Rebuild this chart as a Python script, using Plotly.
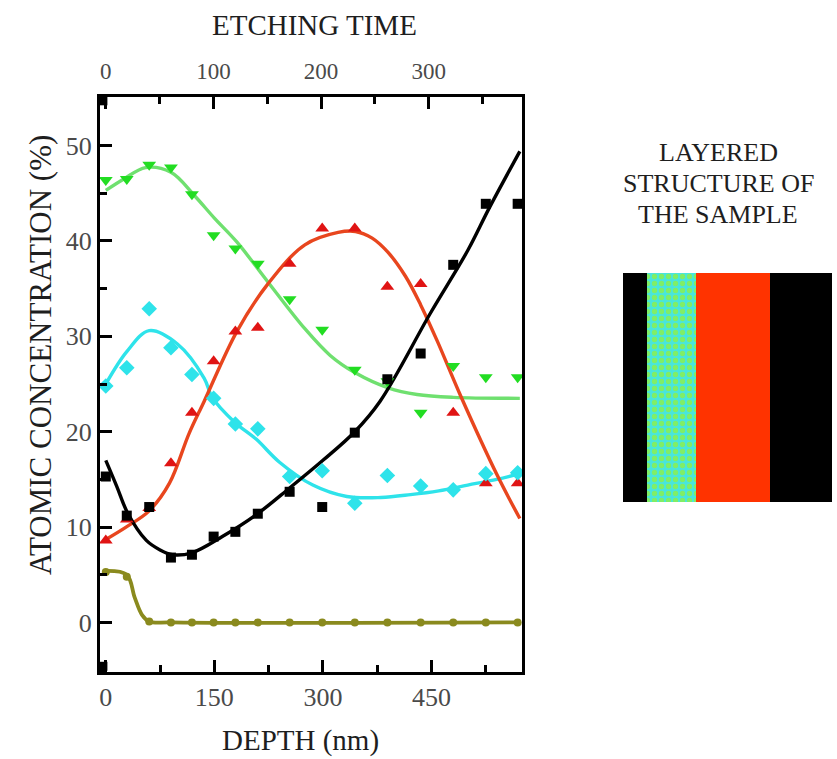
import plotly.graph_objects as go

# ---- measured depth profile (nm) and atomic concentrations (%) ----
depth = [0, 29, 60, 90, 119, 149, 179, 210, 254, 299, 344, 389, 435, 480, 525, 569]

black_pts = [15.3, 11.2, 12.1, 6.8, 7.1, 9.0, 9.5, 11.4, 13.7, 12.1, 19.9, 25.5, 28.2, 37.5, 43.9, 43.9]
red_pts = [8.6, 10.8, 12.0, 16.7, 22.0, 27.4, 30.5, 30.9, 37.6, 41.3, 41.3, 35.2, 35.5, 22.0, 14.6, 14.6]
green_pts = [46.4, 46.5, 48.0, 47.7, 44.9, 40.6, 39.2, 37.6, 33.9, 30.7, 26.5, 25.3, 22.0, 26.9, 25.7, 25.7]
cyan_pts = [24.8, 26.7, 32.9, 28.8, 26.0, 23.5, 20.8, 20.3, 15.3, 15.9, 12.5, 15.4, 14.3, 13.9, 15.6, 15.7]
olive_pts = [5.3, 4.8, 0.1, 0, 0, 0, 0, 0, 0, 0, 0, 0, 0, 0, 0, 0]

# frame corner markers
corner_depth = [-4, -4]
corner_conc = [54.7, -4.6]

# ---- smoothed fit curves ----
black_fit_x = [0, 15, 30, 56, 75, 92, 119, 161, 208, 254, 300, 344, 379, 449, 500, 530, 572]
black_fit_y = [17.0, 14.3, 11.5, 8.6, 7.6, 7.1, 7.3, 9.0, 11.3, 14.1, 17.0, 20.0, 23.2, 32.5, 39.0, 43.5, 49.4]

red_fit_x = [0, 28, 60, 88, 115, 136, 181, 224, 275, 321, 345, 368, 390, 414, 435, 458, 490, 541, 572]
red_fit_y = [8.7, 10.0, 11.7, 14.6, 19.8, 23.2, 30.5, 35.5, 39.6, 40.9, 41.0, 40.3, 38.8, 36.3, 33.3, 29.5, 23.8, 15.4, 10.9]

green_fit_x = [0, 25, 55, 90, 122, 150, 181, 225, 275, 310, 344, 390, 430, 480, 572]
green_fit_y = [45.3, 46.5, 47.7, 47.2, 44.8, 42.4, 39.9, 35.6, 30.8, 28.0, 26.2, 24.6, 23.9, 23.6, 23.5]

cyan_fit_x = [0, 29, 60, 99, 136, 147, 178, 208, 240, 286, 333, 380, 421, 460, 500, 540, 572]
cyan_fit_y = [25.0, 28.4, 30.6, 29.2, 25.6, 23.6, 21.0, 19.2, 16.8, 14.4, 13.2, 13.1, 13.4, 13.8, 14.4, 15.0, 15.6]

olive_fit_x = [0, 29, 40, 50, 60, 90, 572]
olive_fit_y = [5.4, 5.0, 2.6, 0.8, 0.1, 0.0, 0.0]

# ---- axes ----
depth_range = [-8, 575]
conc_range = [-5.2, 55.1]
nm_per_time = 1.487
time_range = [depth_range[0] / nm_per_time, depth_range[1] / nm_per_time]

# ---- layered structure (layer thickness, arbitrary units) ----
layer_names = ["substrate side", "mixed", "oxide", "top"]
layer_widths = [24, 49, 74, 62]
panel_title = ["LAYERED", "STRUCTURE OF", "THE SAMPLE"]

SERIF = "Liberation Serif, Times New Roman, serif"

# page geometry (px)
W, H = 837, 759
ML, MR, MT, MB = 100, 0, 97, 87
PW = W - ML - MR
PH = H - MT - MB


def px(x):
    return (x - ML) / PW


def py(y):
    return (H - MB - y) / PH


fig = go.Figure()

curves = [
    (olive_fit_x, olive_fit_y, "#8a8a1e", 3.8),
    (cyan_fit_x, cyan_fit_y, "#2ee3ea", 3.4),
    (green_fit_x, green_fit_y, "#6fe06f", 3.4),
    (red_fit_x, red_fit_y, "#e8461e", 3.4),
    (black_fit_x, black_fit_y, "#000000", 3.4),
]
for cx, cy, col, lw in curves:
    fig.add_trace(go.Scatter(x=cx, y=cy, mode="lines",
                             line=dict(color=col, width=lw, shape="spline", smoothing=1.0),
                             hoverinfo="skip", showlegend=False))

points = [
    (olive_pts, "circle", 8, "#8a8a1e"),
    (red_pts, "triangle-up", 12, "#e01414"),
    (green_pts, "triangle-down", 12, "#22dd22"),
    (cyan_pts, "diamond", 12, "#2ee3ea"),
    (black_pts, "square", 10, "#000000"),
]
for vals, sym, size, col in points:
    fig.add_trace(go.Scatter(x=depth, y=vals, mode="markers",
                             marker=dict(symbol=sym, size=size, color=col, line=dict(width=0)),
                             showlegend=False))

fig.add_trace(go.Scatter(x=corner_depth, y=corner_conc, mode="markers",
                         marker=dict(symbol="square", size=9, color="#000000"),
                         showlegend=False))

# invisible trace so the etching-time axis is drawn on top
fig.add_trace(go.Scatter(x=time_range, y=[None, None], xaxis="x2", yaxis="y",
                         mode="lines", showlegend=False, hoverinfo="skip"))

# layered structure as a stacked horizontal bar
layer_colors = ["#000000", "#48e6dc", "#ff3300", "#000000"]
for i, (name, wdt) in enumerate(zip(layer_names, layer_widths)):
    marker = dict(color=layer_colors[i], line=dict(width=0))
    if i == 1:
        marker["pattern"] = dict(shape=".", bgcolor="#48e6dc", fgcolor="#80ee66",
                                 fgopacity=1, size=7, solidity=0.45, fillmode="overlay")
    fig.add_trace(go.Bar(x=[wdt], y=["sample"], orientation="h", name=name,
                         marker=marker, xaxis="x3", yaxis="y3", showlegend=False,
                         hoverinfo="skip"))

tick_font = dict(family=SERIF, size=26, color="#4a4a4a")
title_font = dict(family=SERIF, size=29, color="#1e1e1e")
panel_font = dict(family=SERIF, size=26, color="#1e1e1e")

fig.update_layout(
    width=W, height=H,
    margin=dict(l=ML, r=MR, t=MT, b=MB),
    paper_bgcolor="white", plot_bgcolor="white",
    barmode="stack", bargap=0,
    xaxis=dict(domain=[0, px(522)], range=depth_range, showgrid=False, zeroline=False,
               showline=True, linecolor="black", linewidth=3, mirror=True,
               ticks="inside", ticklen=12, tickwidth=3, tickcolor="black",
               tick0=0, dtick=150, tickfont=tick_font,
               minor=dict(ticks="inside", ticklen=7, tickwidth=3, tickcolor="black", dtick=75, tick0=0)),
    xaxis2=dict(overlaying="x", side="top", range=time_range, showgrid=False, zeroline=False,
                showline=False, ticks="inside", ticklen=12, tickwidth=3, tickcolor="black",
                tick0=0, dtick=100, ticklabelstandoff=12,
                tickfont=dict(family=SERIF, size=23, color="#4a4a4a"),
                minor=dict(ticks="inside", ticklen=7, tickwidth=3, tickcolor="black", dtick=50, tick0=0)),
    yaxis=dict(range=conc_range, showgrid=False, zeroline=False,
               showline=True, linecolor="black", linewidth=3, mirror=True,
               ticks="inside", ticklen=12, tickwidth=3, tickcolor="black",
               tick0=0, dtick=10, tickfont=tick_font,
               minor=dict(ticks="inside", ticklen=7, tickwidth=3, tickcolor="black", dtick=5, tick0=0)),
    xaxis3=dict(domain=[px(623), px(832)], range=[0, sum(layer_widths)], visible=False,
                fixedrange=True),
    yaxis3=dict(domain=[py(502), py(273)], visible=False, fixedrange=True),
)

annotations = [
    dict(text="ETCHING TIME", x=px(314), y=py(25), font=title_font),
    dict(text="DEPTH (nm)", x=px(300), y=py(740), font=title_font),
    dict(text="ATOMIC CONCENTRATION (%)", x=px(40), y=py(355),
         font=dict(family=SERIF, size=31, color="#1e1e1e"), textangle=-90),
]
for line_text, line_y in zip(panel_title, [152, 183, 214]):
    annotations.append(dict(text=line_text, x=px(718), y=py(line_y), font=panel_font))

for a in annotations:
    fig.add_annotation(xref="paper", yref="paper", showarrow=False,
                       xanchor="center", yanchor="middle", **a)

fig.write_html("out.html")
